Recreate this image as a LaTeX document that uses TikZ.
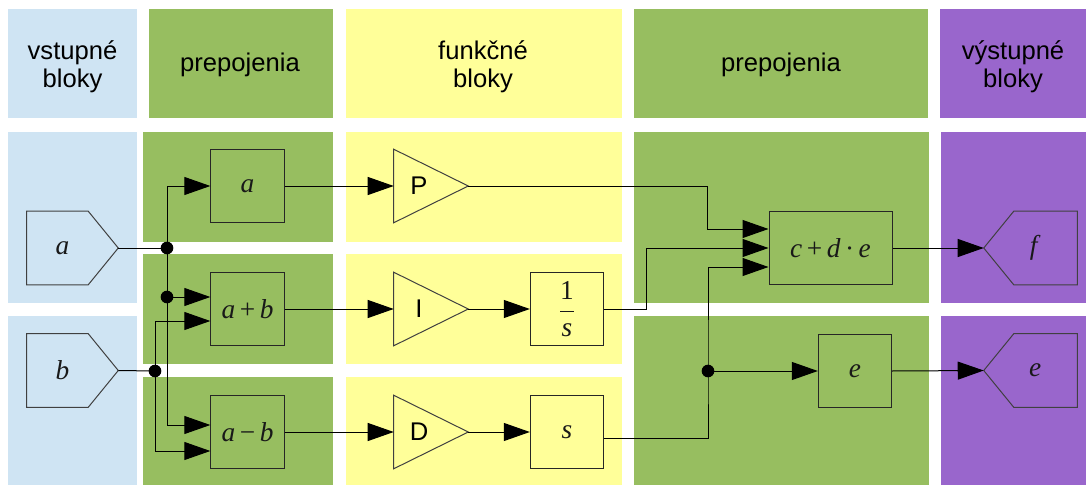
\documentclass[tikz,border=0pt]{standalone}
\usepackage{fontspec}
\setmainfont{Liberation Serif}
\newfontfamily\hdrfont{Liberation Sans}
\usetikzlibrary{arrows.meta,calc}
\definecolor{cblue}{RGB}{207,228,243}
\definecolor{cgreen}{RGB}{151,190,96}
\definecolor{cyellow}{RGB}{255,255,153}
\definecolor{cpurple}{RGB}{153,102,204}
\tikzset{
  hdrtext/.style={font=\hdrfont\fontsize{19.2}{21}\selectfont, align=center, text=black, inner sep=0pt},
  mathtext/.style={font=\fontsize{20.5}{24}\selectfont, text=black!90},
  box/.style={draw=black!85, line width=0.75pt, minimum width=55pt, minimum height=54.75pt, inner sep=0pt, mathtext},
  shapebox/.style={draw=none, minimum width=55.5pt, minimum height=54.75pt, inner sep=0pt},
  outline/.style={draw=black!75, line width=0.75pt},
  wire/.style={draw=black, line width=0.75pt},
  arr/.style={wire, -{Triangle[length=19.5pt,width=13.5pt]}},
}
\begin{document}
\begin{tikzpicture}[x=0.75pt,y=-0.75pt]
\useasboundingbox (0,0) rectangle (1086,485);
% backgrounds: header
\fill[cblue] (8,9) rectangle (137,118);
\fill[cgreen] (149,9) rectangle (333,118);
\fill[cyellow] (346,9) rectangle (622,118);
\fill[cgreen] (634,9) rectangle (928,118);
\fill[cpurple] (940,9) rectangle (1086,118);
% body
\fill[cblue] (8,132) rectangle (137,303);
\fill[cblue] (8,316) rectangle (137,485);
\fill[cgreen] (143,132) rectangle (333,242);
\fill[cgreen] (143,254) rectangle (333,364);
\fill[cgreen] (143,377) rectangle (333,485);
\fill[cyellow] (346,132) rectangle (622,242);
\fill[cyellow] (346,254) rectangle (622,364);
\fill[cyellow] (346,377) rectangle (622,485);
\fill[cgreen] (634,132) rectangle (929,303);
\fill[cgreen] (634,316) rectangle (929,485);
\fill[cpurple] (941,132) rectangle (1086,303);
\fill[cpurple] (941,316) rectangle (1086,485);
% header texts
\node[hdrtext] (h1) at (72.5,67) {vstupné\\bloky};
\node[hdrtext] (h2) at (240,65) {prepojenia};
\node[hdrtext] (h3) at (483,67) {funkčné\\bloky};
\node[hdrtext] (h4) at (781,65) {prepojenia};
\node[hdrtext] (h5) at (1013,67) {výstupné\\bloky};
% input blocks
\node[shapebox, minimum width=68.25pt, mathtext] (INA) at (72.5,248) {\textit{a}\kern15pt};
\node[shapebox, minimum width=68.25pt, mathtext] (INB) at (72.5,370.5) {\textit{b}\kern15pt};
\foreach \n in {INA,INB}
  \draw[outline] (\n.north west) -- ([xshift=-22.5pt]\n.north east) -- (\n.east) -- ([xshift=-22.5pt]\n.south east) -- (\n.south west) -- cycle;
% connection boxes
\node[box] (A) at (247.5,186) {\textit{a}};
\node[box] (AB) at (247.5,309) {\textit{a}\,+\,\textit{b}};
\node[box] (AMB) at (247.5,432) {\textit{a}\,−\,\textit{b}};
% function blocks
\node[shapebox, hdrtext] (P) at (431,186) {P\kern18pt};
\node[shapebox, hdrtext] (I) at (431,309) {I\kern18pt};
\node[shapebox, hdrtext] (D) at (431,432) {D\kern18pt};
\foreach \n in {P,I,D}
  \draw[outline] (\n.north west) -- (\n.east) -- (\n.south west) -- cycle;
\node[box] (INT) at (567,309) {$\displaystyle\frac{\mbox{1}}{\mbox{\itshape s}}$};
\node[box] (DER) at (567,432) {\textit{s}};
% output connection boxes
\node[box, minimum width=92.25pt] (CDE) at (830.5,248) {\textit{c}\,+\,\textit{d}\,·\,\textit{e}};
\node[box] (E) at (855,371) {\textit{e}};
% output blocks
\node[shapebox, minimum width=69.75pt, mathtext] (OUTF) at (1030.5,248) {\kern7pt\textit{f}};
\node[shapebox, minimum width=69.75pt, mathtext] (OUTE) at (1030.5,370.5) {\kern7pt\textit{e}};
\foreach \n in {OUTF,OUTE}
  \draw[outline] (\n.west) -- ([xshift=22.5pt]\n.north west) -- (\n.north east) -- (\n.south east) -- ([xshift=22.5pt]\n.south west) -- cycle;
% junctions
\coordinate (JA) at (167,248);
\coordinate (JAB) at (167,297);
\coordinate (JB) at (155,371);
\coordinate (JE) at (708,371);
% wires left
\draw[wire] (INA.east) -- (JA);
\draw[arr] (JA) |- (A.west);
\draw[wire] (JA) -- (JAB);
\draw[arr] (JAB) -- (JAB -| AB.west);
\draw[arr] (JAB) |- ($(AMB.west)+(0,-7)$);
\draw[wire] (INB.east) -- (JB);
\draw[arr] (JB) |- ($(AB.west)+(0,12)$);
\draw[arr] (JB) |- ($(AMB.west)+(0,19)$);
% wires middle
\draw[arr] (A.east) -- (P.west);
\draw[arr] (AB.east) -- (I.west);
\draw[arr] (AMB.east) -- (D.west);
\draw[arr] (I.east) -- (INT.west);
\draw[arr] (D.east) -- (DER.west);
% wires right
\draw[arr] (P.east) -| ($(CDE.west)+(-61,-19)$) -- ($(CDE.west)+(0,-19)$);
\draw[arr] (INT.east) -- ++(42,0) |- (CDE.west);
\draw[arr] ($(DER.east)+(0,6)$) -| (JE) |- ($(CDE.west)+(0,19)$);
\draw[arr] (JE) -- (E.west);
\draw[arr] (CDE.east) -- (OUTF.west);
\draw[arr] (E.east) -- (OUTE.west);
% dots
\foreach \c in {JA,JAB,JB,JE}
  \fill (\c) circle (4.75pt);
\end{tikzpicture}
\end{document}
